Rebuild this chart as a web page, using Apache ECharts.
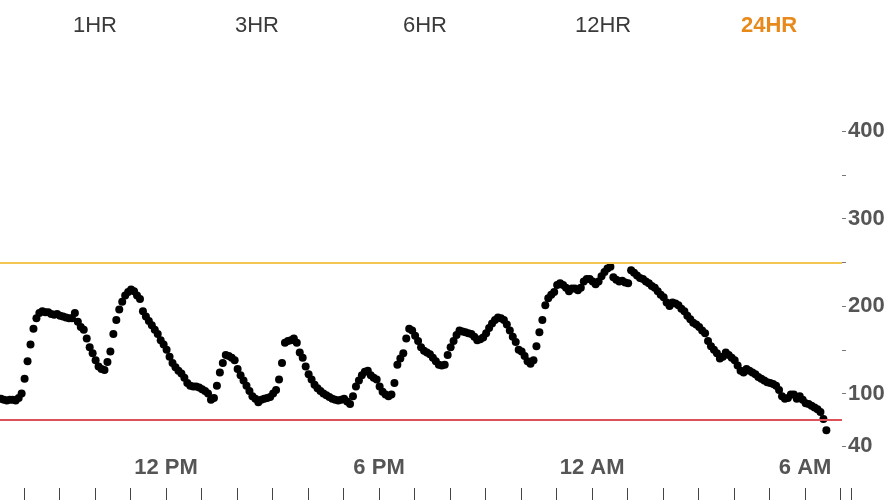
<!DOCTYPE html>
<html>
<head>
<meta charset="utf-8">
<script src="https://cdn.jsdelivr.net/npm/echarts@6/dist/echarts.min.js"></script>
<style>
html,body{margin:0;padding:0;background:#fff;}
#chart{width:888px;height:500px;}
</style>
</head>
<body>
<div id="chart"></div>
<script>
// ---- data ----
const tabs = ['1HR', '3HR', '6HR', '12HR', '24HR'];
const activeTab = '24HR';
const startHour = 7.35;      // first reading ~7:21 AM
const stepMinutes = 5;       // CGM reading interval
const glucose = [
  94, 93, 92, 93, 93, 92, 95, 100, 117, 137,
  156, 174, 186, 192, 194, 193, 193, 191, 190, 191,
  189, 188, 187, 186, 186, 192, 182, 176, 173, 163,
  153, 146, 138, 131, 128, 127, 136, 148, 168, 184,
  196, 205, 212, 216, 219, 217, 212, 208, 194, 188,
  183, 178, 173, 168, 161, 156, 150, 142, 135, 130,
  126, 123, 118, 112, 109, 108, 108, 107, 105, 103,
  100, 93, 95, 109, 124, 135, 144, 143, 141, 138,
  128, 121, 115, 109, 103, 97, 94, 90, 93, 94,
  95, 96, 100, 104, 116, 135, 158, 160, 161, 163,
  158, 147, 141, 131, 122, 116, 110, 106, 103, 100,
  98, 96, 94, 93, 92, 93, 94, 91, 88, 97,
  108, 115, 121, 125, 126, 121, 118, 116, 108, 102,
  99, 97, 99, 112, 133, 140, 146, 163, 174, 172,
  166, 160, 153, 149, 147, 145, 141, 137, 133, 132,
  133, 144, 153, 160, 167, 172, 171, 170, 169, 168,
  165, 161, 162, 164, 169, 175, 180, 184, 187, 186,
  184, 179, 172, 165, 159, 150, 148, 143, 137, 134,
  138, 154, 170, 184, 201, 209, 213, 216, 224, 226,
  224, 221, 217, 220, 220, 218, 221, 228, 231, 231,
  228, 225, 228, 234, 239, 243, 245, 233, 230, 228,
  229, 227, 226, 241, 238, 235, 232, 231, 228, 226,
  223, 221, 217, 213, 210, 204, 200, 204, 203, 201,
  197, 194, 189, 185, 181, 179, 176, 172, 169, 160,
  154, 150, 146, 140, 142, 147, 144, 141, 138, 132,
  126, 124, 128, 126, 124, 122, 119, 117, 115, 113,
  112, 111, 109, 104, 97, 94, 95, 99, 99, 94,
  97, 93, 89, 88, 86, 84, 82, 79, 71, 58
];
const xTickHours = [8,9,10,11,12,13,14,15,16,17,18,19,20,21,22,23,24,25,26,27,28,29,30,31];
const xLabelHours = [12, 18, 24, 30];
const xLabelText = ['12 PM', '6 PM', '12 AM', '6 AM'];
const yTickValues = [40, 100, 150, 200, 250, 300, 350, 400];
const yLabelValues = [40, 100, 200, 300, 400];
const highLimit = 250;
const lowLimit = 70;

// ---- chart ----
const points = glucose.map((v, i) => [startHour + i * stepMinutes / 60, v]);
const tabCenters = [113, 275, 443, 615, 781];

const chart = echarts.init(document.getElementById('chart'), null, {renderer: 'canvas'});
chart.setOption({
  animation: false,
  backgroundColor: '#ffffff',
  textStyle: {fontFamily: 'Liberation Sans, Arial, sans-serif'},
  graphic: tabs.map((t, i) => ({
    type: 'text',
    left: tabCenters[i] - 40,
    top: 15,
    style: {
      text: t,
      width: 80,
      align: 'center',
      fontSize: 22,
      fontFamily: 'Liberation Sans, Arial, sans-serif',
      fontWeight: t === activeTab ? 'bold' : 'normal',
      fill: t === activeTab ? '#E8891C' : '#3a3a3a'
    }
  })).concat([{
    type: 'line',
    shape: {x1: 851.5, y1: 488, x2: 851.5, y2: 500},
    style: {stroke: '#444', lineWidth: 1}
  }]),
  grid: {left: 0, right: 46, top: 96, bottom: 54, containLabel: false},
  xAxis: {
    type: 'value',
    min: 7.324,
    max: 31.04,
    position: 'bottom',
    offset: 54,
    axisLine: {show: false},
    splitLine: {show: false},
    axisTick: {
      show: true,
      inside: true,
      length: 12,
      customValues: xTickHours,
      lineStyle: {color: '#444', width: 1}
    },
    axisLabel: {
      show: true,
      inside: true,
      margin: 21,
      customValues: xLabelHours,
      fontSize: 22,
      fontWeight: 'bold',
      color: '#555',
      formatter: v => xLabelText[xLabelHours.indexOf(Math.round(v))] || ''
    }
  },
  yAxis: {
    type: 'value',
    position: 'right',
    min: 40,
    max: 440,
    axisLine: {show: false},
    splitLine: {show: false},
    axisTick: {
      show: true,
      length: 4,
      customValues: yTickValues,
      lineStyle: {color: '#777', width: 1}
    },
    axisLabel: {
      show: true,
      margin: 6,
      customValues: yLabelValues,
      fontSize: 22,
      fontWeight: 'bold',
      color: '#555'
    }
  },
  series: [{
    type: 'scatter',
    data: points,
    symbol: 'circle',
    symbolSize: 8,
    itemStyle: {color: '#000', opacity: 1},
    silent: true,
    markLine: {
      silent: true,
      symbol: 'none',
      label: {show: false},
      data: [
        {yAxis: highLimit, lineStyle: {color: '#F2C650', width: 2, type: 'solid'}},
        {yAxis: lowLimit, lineStyle: {color: '#DD5158', width: 2, type: 'solid'}}
      ]
    }
  }]
});
</script>
</body>
</html>
